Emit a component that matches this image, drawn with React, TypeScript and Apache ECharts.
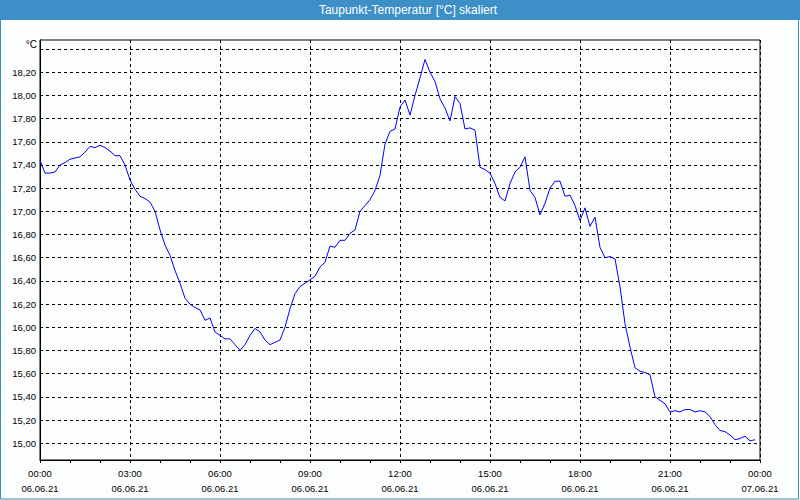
import React, { useEffect, useRef } from "react";
import * as echarts from "echarts";

// Dew point readings every 10 minutes, 06.06.21 00:00 .. 23:50
const stepMinutes = 10;
const dewPoint: number[] = [
  17.44, 17.33, 17.33, 17.34, 17.40, 17.42, 17.45, 17.46, 17.47, 17.51,
  17.56, 17.55, 17.57, 17.55, 17.52, 17.48, 17.48, 17.40, 17.27, 17.19,
  17.13, 17.11, 17.08, 17.00, 16.84, 16.71, 16.62, 16.49, 16.38, 16.25,
  16.20, 16.17, 16.15, 16.06, 16.08, 15.96, 15.93, 15.90, 15.90, 15.85,
  15.80, 15.85, 15.93, 15.99, 15.96, 15.89, 15.85, 15.87, 15.89, 16.00,
  16.16, 16.29, 16.35, 16.38, 16.41, 16.44, 16.52, 16.56, 16.70, 16.69,
  16.75, 16.75, 16.81, 16.84, 17.00, 17.05, 17.10, 17.18, 17.31, 17.58,
  17.69, 17.71, 17.90, 17.96, 17.83, 18.00, 18.15, 18.31, 18.20, 18.12,
  17.97, 17.89, 17.78, 17.99, 17.93, 17.71, 17.72, 17.70, 17.38, 17.36,
  17.33, 17.24, 17.12, 17.09, 17.24, 17.34, 17.38, 17.47, 17.18, 17.12,
  16.97, 17.07, 17.20, 17.26, 17.26, 17.13, 17.14, 17.05, 16.92, 17.03,
  16.87, 16.95, 16.69, 16.60, 16.61, 16.59, 16.35, 16.03, 15.83, 15.65,
  15.62, 15.61, 15.59, 15.40, 15.37, 15.34, 15.27, 15.28, 15.27, 15.29,
  15.29, 15.27, 15.28, 15.27, 15.23, 15.16, 15.11, 15.10, 15.07, 15.03,
  15.04, 15.06, 15.02, 15.03,
];

// x-axis ticks in hours since 06.06.21 00:00, with their labels
const xTickHours: number[] = [0, 3, 6, 9, 12, 15, 18, 21, 24];
const xTickLabels: string[] = [
  "00:00\n06.06.21",
  "03:00\n06.06.21",
  "06:00\n06.06.21",
  "09:00\n06.06.21",
  "12:00\n06.06.21",
  "15:00\n06.06.21",
  "18:00\n06.06.21",
  "21:00\n06.06.21",
  "00:00\n07.06.21",
];

// horizontal grid lines, and the ones that carry a label
const yGridValues: number[] = [
  15.0, 15.2, 15.4, 15.6, 15.8, 16.0, 16.2, 16.4, 16.6, 16.8, 17.0, 17.2,
  17.4, 17.6, 17.8, 18.0, 18.2, 18.4,
];
const yLabelValues: number[] = [
  15.0, 15.2, 15.4, 15.6, 15.8, 16.0, 16.2, 16.4, 16.6, 16.8, 17.0, 17.2,
  17.4, 17.6, 17.8, 18.0, 18.2,
];

const titleText = "Taupunkt-Temperatur [°C] skaliert";
const unitText = "°C";

export default function App() {
  const ref = useRef<HTMLDivElement>(null);

  useEffect(() => {
    if (!ref.current) return;
    const chart = echarts.init(ref.current, null, { renderer: "svg" });
    const seriesData = dewPoint.map((v, i) => [(i * stepMinutes) / 60, v]);
    const font = "Liberation Sans";

    chart.setOption({
      animation: false,
      backgroundColor: "#fcfdfd",
      textStyle: { fontFamily: font },
      graphic: [
        {
          type: "rect",
          shape: { x: 0, y: 0, width: 800, height: 20 },
          style: { fill: "#3d90c7" },
          silent: true,
        },
        {
          type: "rect",
          shape: { x: 0.5, y: 0.5, width: 798, height: 498.5 },
          style: { fill: "none", stroke: "#3d90c7", lineWidth: 1 },
          silent: true,
        },
        {
          type: "text",
          x: 408,
          y: 10,
          style: {
            text: titleText,
            fill: "#ffffff",
            font: `12px '${font}'`,
            align: "center",
            verticalAlign: "middle",
          },
          silent: true,
        },
        {
          type: "text",
          x: 37,
          y: 44,
          style: {
            text: unitText,
            fill: "#000000",
            font: `10px '${font}'`,
            align: "right",
            verticalAlign: "middle",
          },
          silent: true,
        },
      ],
      grid: {
        left: 40,
        right: 40,
        top: 40,
        bottom: 40,
        show: true,
        borderColor: "#000000",
        borderWidth: 1,
        backgroundColor: "transparent",
      },
      xAxis: {
        type: "value",
        min: 0,
        max: 24,
        interval: 3,
        axisLine: { show: true, lineStyle: { color: "#000000", width: 1 } },
        axisTick: { show: true, length: 3, inside: false, lineStyle: { color: "#000000" } },
        minorTick: { show: true, splitNumber: 3, length: 3, lineStyle: { color: "#000000" } },
        splitLine: {
          show: true,
          lineStyle: { color: "#000000", type: [3, 3], width: 1 },
        },
        axisLabel: {
          color: "#000000",
          fontSize: 9.5,
          fontFamily: font,
          lineHeight: 15,
          margin: 6,
          showMinLabel: true,
          showMaxLabel: true,
          formatter: (v: number) => {
            const idx = xTickHours.indexOf(Math.round(v));
            return idx >= 0 ? xTickLabels[idx] : "";
          },
        },
      },
      yAxis: {
        type: "value",
        min: 14.855,
        max: 18.478,
        axisLine: { show: true, lineStyle: { color: "#000000", width: 1 } },
        axisTick: { show: false, customValues: yGridValues },
        splitLine: {
          show: true,
          lineStyle: { color: "#000000", type: [3, 3], width: 1 },
        },
        axisLabel: {
          customValues: yLabelValues,
          color: "#000000",
          fontSize: 9.5,
          fontFamily: font,
          margin: 4,
          formatter: (v: number) => v.toFixed(2).replace(".", ","),
        },
      },
      series: [
        {
          type: "line",
          data: seriesData,
          showSymbol: false,
          symbol: "none",
          lineStyle: { color: "#0000ff", width: 1 },
          itemStyle: { color: "#0000ff" },
          z: 3,
        },
      ],
    });

    return () => chart.dispose();
  }, []);

  return (
    <div
      ref={ref}
      style={{ position: "fixed", left: 0, top: 0, width: 800, height: 500 }}
    />
  );
}
